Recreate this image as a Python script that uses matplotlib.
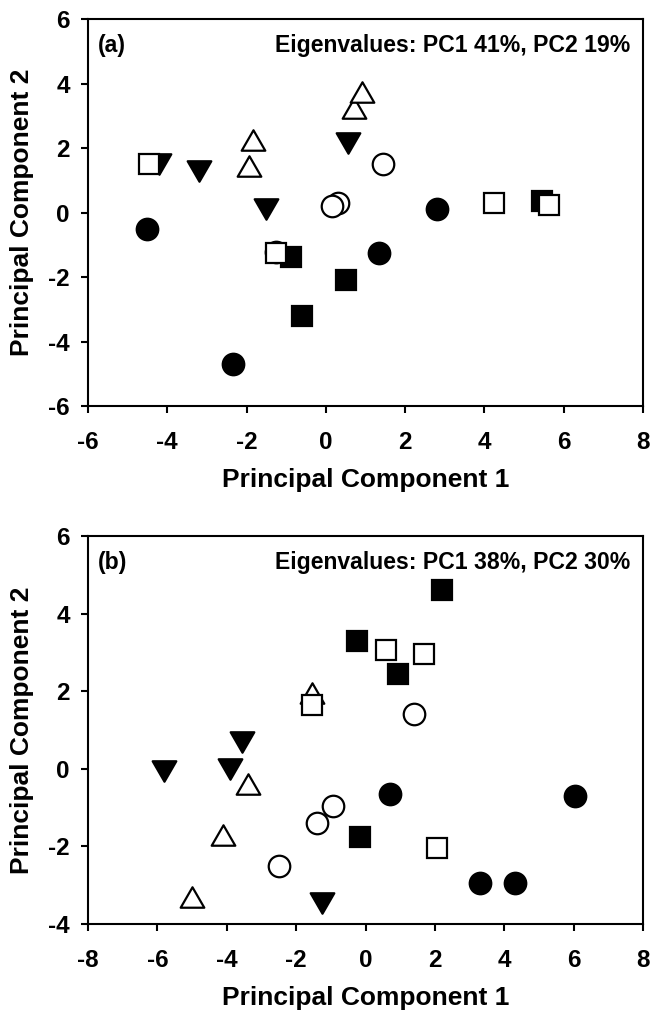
import matplotlib.pyplot as plt
from matplotlib.markers import MarkerStyle
from matplotlib.path import Path

plt.rcParams['font.family'] = ['Liberation Sans', 'DejaVu Sans']
plt.rcParams['font.weight'] = 'bold'
plt.rcParams['axes.unicode_minus'] = False

# ---- panel (a) scores ----
a_fcirc_x = [-4.5, -2.35, 1.35, 2.8]
a_fcirc_y = [-0.5, -4.7, -1.25, 0.1]
a_ocirc_x = [0.3, 0.15, 1.45, -1.27]
a_ocirc_y = [0.3, 0.2, 1.5, -1.21]
a_ftri_x = [-4.2, -3.2, -1.5, 0.55]
a_ftri_y = [1.5, 1.3, 0.1, 2.15]
a_otri_x = [-1.95, -1.85, 0.7, 0.9]
a_otri_y = [1.45, 2.25, 3.25, 3.75]
a_fsq_x = [-0.89, 0.5, -0.6, 5.45]
a_fsq_y = [-1.39, -2.1, -3.2, 0.36]
a_osq_x = [-4.45, -1.25, 4.25, 5.63]
a_osq_y = [1.5, -1.24, 0.3, 0.23]

# ---- panel (b) scores ----
b_fcirc_x = [0.7, 6.05, 3.3, 4.3]
b_fcirc_y = [-0.65, -0.7, -2.95, -2.95]
b_ocirc_x = [1.4, -2.5, -1.4, -0.95]
b_ocirc_y = [1.4, -2.5, -1.4, -0.95]
b_ftri_x = [-3.55, -5.8, -3.9, -1.25]
b_ftri_y = [0.7, -0.05, 0.0, -3.45]
b_otri_x = [-1.55, -3.4, -4.1, -5.0]
b_otri_y = [1.95, -0.4, -1.7, -3.3]
b_fsq_x = [2.2, -0.25, 0.95, -0.15]
b_fsq_y = [4.6, 3.3, 2.45, -1.75]
b_osq_x = [0.6, 1.7, -1.55, 2.05]
b_osq_y = [3.05, 2.95, 1.65, -2.05]

a_xticks = [-6, -4, -2, 0, 2, 4, 6, 8]
a_yticks = [-6, -4, -2, 0, 2, 4, 6]
b_xticks = [-8, -6, -4, -2, 0, 2, 4, 6, 8]
b_yticks = [-4, -2, 0, 2, 4, 6]

a_tag = '(a)'
b_tag = '(b)'
a_eig = 'Eigenvalues: PC1 41%, PC2 19%'
b_eig = 'Eigenvalues: PC1 38%, PC2 30%'

# equilateral triangles, closed so the open ones get all three edges
tri_up = MarkerStyle(Path([(-1, -0.866), (1, -0.866), (0, 0.866), (-1, -0.866)], closed=True), joinstyle='miter')
tri_dn = MarkerStyle(Path([(-1, 0.866), (1, 0.866), (0, -0.866), (-1, 0.866)], closed=True), joinstyle='miter')


def draw_panel(ax, groups, xticks, yticks, tag, eig):
    for x, y, mk, face, ms in groups:
        ax.plot(x, y, ls='none', marker=mk, ms=ms, mfc=face, mec='black', mew=1.6)
    ax.set_xlim(xticks[0], xticks[-1])
    ax.set_ylim(yticks[0], yticks[-1])
    ax.set_xticks(xticks)
    ax.set_yticks(yticks)
    for s in ax.spines.values():
        s.set_linewidth(1.5)
    ax.tick_params(direction='out', length=5, width=1.5, top=False, right=False, labelsize=17.5)
    ax.tick_params(axis='x', pad=13)
    ax.tick_params(axis='y', pad=8)
    ax.set_xlabel('Principal Component 1', fontsize=19, fontweight='bold')
    ax.set_ylabel('Principal Component 2', fontsize=19, fontweight='bold')
    ax.xaxis.set_label_coords(0.5, -0.191)
    ax.yaxis.set_label_coords(-0.1195, 0.5)
    ax.xaxis.label.set_va('center')
    ax.yaxis.label.set_va('center')
    ax.text(0.018, 0.916, tag, transform=ax.transAxes, fontsize=16.6, fontweight='bold', va='baseline')
    ax.text(0.977, 0.916, eig, transform=ax.transAxes, fontsize=16.6, fontweight='bold', va='baseline', ha='right')


fig = plt.figure(figsize=(6.51, 10.13), dpi=100)
ax1 = fig.add_axes([0.1352, 0.5992, 0.8525, 0.3820])
ax2 = fig.add_axes([0.1352, 0.0879, 0.8525, 0.3830])

draw_panel(ax1, [
    (a_fcirc_x, a_fcirc_y, 'o', 'black', 15.5),
    (a_ocirc_x, a_ocirc_y, 'o', 'white', 15.5),
    (a_ftri_x, a_ftri_y, tri_dn, 'black', 17),
    (a_otri_x, a_otri_y, tri_up, 'white', 17),
    (a_fsq_x, a_fsq_y, 's', 'black', 14),
    (a_osq_x, a_osq_y, 's', 'white', 14),
], a_xticks, a_yticks, a_tag, a_eig)

draw_panel(ax2, [
    (b_fcirc_x, b_fcirc_y, 'o', 'black', 15.5),
    (b_ocirc_x, b_ocirc_y, 'o', 'white', 15.5),
    (b_ftri_x, b_ftri_y, tri_dn, 'black', 17),
    (b_otri_x, b_otri_y, tri_up, 'white', 17),
    (b_fsq_x, b_fsq_y, 's', 'black', 14),
    (b_osq_x, b_osq_y, 's', 'white', 14),
], b_xticks, b_yticks, b_tag, b_eig)

fig.savefig('out.png', dpi=100)
